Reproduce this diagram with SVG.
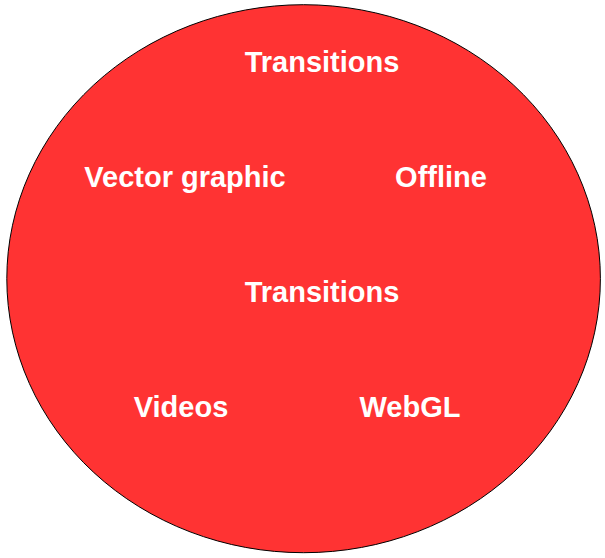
<svg xmlns="http://www.w3.org/2000/svg" width="605" height="558" viewBox="0 0 605 558">
<style>
.lbl{font-family:"Liberation Sans",Arial,sans-serif;font-weight:bold;font-size:29px;fill:#ffffff;text-anchor:middle}
</style>
<rect width="605" height="558" fill="#ffffff"/>
<g id="circle">
<ellipse cx="303.6" cy="278.7" rx="296.8" ry="274" fill="#ff3333" stroke="#000000" stroke-width="1"/>
</g>
<g id="connectors"></g>
<g id="transitions-top"><text class="lbl" x="322" y="72">Transitions</text></g>
<g id="vector-graphic"><text class="lbl" x="185" y="187">Vector graphic</text></g>
<g id="offline"><text class="lbl" x="441" y="187">Offline</text></g>
<g id="transitions-mid"><text class="lbl" x="322" y="302">Transitions</text></g>
<g id="videos"><text class="lbl" x="181" y="417">Videos</text></g>
<g id="webgl"><text class="lbl" x="410" y="417">WebGL</text></g>
</svg>
